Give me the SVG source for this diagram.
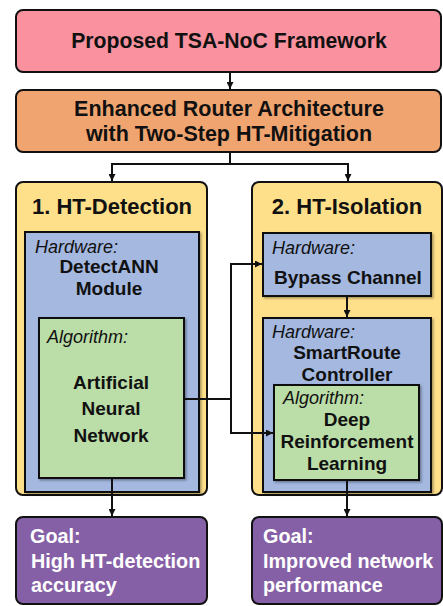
<svg xmlns="http://www.w3.org/2000/svg" width="443" height="606" viewBox="0 0 443 606">
<defs>
<style>
.b{stroke:#111;stroke-width:2}
.t{font-family:"Liberation Sans",Arial,sans-serif;font-weight:bold;fill:#111;text-anchor:middle}
.i{font-family:"Liberation Sans",Arial,sans-serif;font-style:italic;fill:#111;font-size:18px}
.w{font-family:"Liberation Sans",Arial,sans-serif;font-weight:bold;fill:#fff;font-size:19.8px}
.c{fill:none;stroke:#111;stroke-width:2}
</style>
<marker id="ah" viewBox="0 0 10 10" refX="10" refY="5" markerWidth="7" markerHeight="7" markerUnits="userSpaceOnUse" orient="auto">
<path d="M0,0 L10,5 L0,10 z" fill="#111"/>
</marker>
<filter id="sh" x="-10%" y="-10%" width="120%" height="120%">
<feDropShadow dx="1.5" dy="1.5" stdDeviation="1.2" flood-color="#000" flood-opacity="0.35"/>
</filter>
</defs>

<g id="framework">
<rect x="16" y="10" width="425" height="62" rx="7" fill="#F9919F" class="b"/>
<text class="t" x="229" y="48" font-size="21.2">Proposed TSA-NoC Framework</text>
</g>

<g id="router">
<rect x="16" y="90" width="425" height="62" rx="7" fill="#F0A46F" class="b"/>
<text class="t" x="229" y="116" font-size="21.5">Enhanced Router Architecture</text>
<text class="t" x="229" y="141" font-size="21.5">with Two-Step HT-Mitigation</text>
</g>

<g id="detection">
<rect x="16" y="182" width="191" height="313" rx="7" fill="#FFE08A" class="b"/>
<text class="t" x="112" y="214" font-size="22">1. HT-Detection</text>
</g>

<g id="detectann">
<rect x="25" y="232" width="174" height="260" fill="#A4B8E0" class="b" filter="url(#sh)"/>
<text class="i" x="35" y="253">Hardware:</text>
<text class="t" x="109" y="273" font-size="19">DetectANN</text>
<text class="t" x="109" y="295" font-size="19">Module</text>
</g>

<g id="ann">
<rect x="39" y="318" width="145" height="160" fill="#BBDDA8" class="b" filter="url(#sh)"/>
<text class="i" x="47" y="343">Algorithm:</text>
<text class="t" x="111" y="389" font-size="19">Artificial</text>
<text class="t" x="111" y="415" font-size="19">Neural</text>
<text class="t" x="111" y="442" font-size="19">Network</text>
</g>

<g id="isolation">
<rect x="252" y="182" width="190" height="313" rx="7" fill="#FFE08A" class="b"/>
<text class="t" x="347" y="214" font-size="22">2. HT-Isolation</text>
</g>

<g id="bypass">
<rect x="263" y="233" width="168" height="63" fill="#A4B8E0" class="b" filter="url(#sh)"/>
<text class="i" x="272" y="254">Hardware:</text>
<text class="t" x="348" y="284" font-size="19">Bypass Channel</text>
</g>

<g id="smartroute">
<rect x="263" y="318" width="168" height="174" fill="#A4B8E0" class="b" filter="url(#sh)"/>
<text class="i" x="272" y="338">Hardware:</text>
<text class="t" x="347" y="359" font-size="19">SmartRoute</text>
<text class="t" x="347" y="381" font-size="19">Controller</text>
</g>

<g id="drl">
<rect x="274" y="385" width="145" height="95" fill="#BBDDA8" class="b" filter="url(#sh)"/>
<text class="i" x="283" y="404">Algorithm:</text>
<text class="t" x="347" y="426" font-size="19">Deep</text>
<text class="t" x="347" y="448" font-size="19">Reinforcement</text>
<text class="t" x="347" y="470" font-size="19">Learning</text>
</g>

<g id="goal1">
<rect x="16" y="517" width="191" height="87" rx="7" fill="#8660A6" class="b"/>
<text class="w" x="30" y="543">Goal:</text>
<text class="w" x="31" y="568">High HT-detection</text>
<text class="w" x="31" y="592">accuracy</text>
</g>

<g id="goal2">
<rect x="252" y="517" width="190" height="87" rx="7" fill="#8660A6" class="b"/>
<text class="w" x="263" y="543">Goal:</text>
<text class="w" x="263" y="568">Improved network</text>
<text class="w" x="263" y="592">performance</text>
</g>

<g id="connectors">
<path class="c" d="M230,72 V89" marker-end="url(#ah)"/>
<path class="c" d="M230,152 V164 M112,164 H348"/>
<path class="c" d="M112,163 V181" marker-end="url(#ah)"/>
<path class="c" d="M348,163 V181" marker-end="url(#ah)"/>
<path class="c" d="M184,399 H231"/>
<path class="c" d="M231,264 V433"/>
<path class="c" d="M230,264 H262" marker-end="url(#ah)"/>
<path class="c" d="M230,433 H273" marker-end="url(#ah)"/>
<path class="c" d="M347,296 V317" marker-end="url(#ah)"/>
<path class="c" d="M112,478 V516" marker-end="url(#ah)"/>
<path class="c" d="M347,480 V516" marker-end="url(#ah)"/>
</g>
</svg>
